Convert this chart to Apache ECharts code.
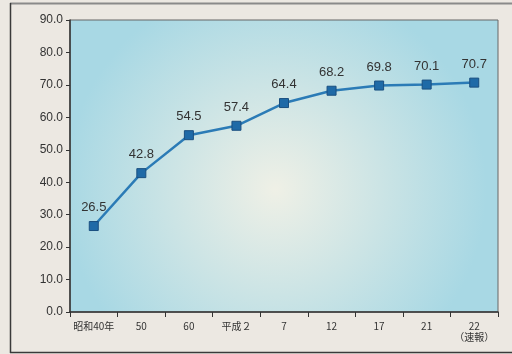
<!DOCTYPE html>
<html><head><meta charset="utf-8">
<script src="https://cdn.jsdelivr.net/npm/echarts@6/dist/echarts.min.js"></script>
<style>html,body{margin:0;padding:0;background:#ece8e2;}#c{width:512px;height:354px;}</style>
</head><body><div id="c"></div>
<script>
const categories = ['昭和40年', '50', '60', '平成２', '7', '12', '17', '21', '22\n（速報）'];
const values = [26.5, 42.8, 54.5, 57.4, 64.4, 68.2, 69.8, 70.1, 70.7];
const yTicks = { min: 0, max: 90, interval: 10 };

const chart = echarts.init(document.getElementById('c'));
chart.setOption({
  backgroundColor: '#ece8e2',
  animation: false,
  graphic: [
    { type: 'line', shape: { x1: 10, y1: 3.5, x2: 512, y2: 3.5 }, style: { stroke: '#8a8a8a', lineWidth: 2 } },
    { type: 'line', shape: { x1: 10.5, y1: 3, x2: 10.5, y2: 353 }, style: { stroke: '#3a3a3a', lineWidth: 1.5 } },
    { type: 'line', shape: { x1: 10, y1: 352.5, x2: 512, y2: 352.5 }, style: { stroke: '#3a3a3a', lineWidth: 1.5 } }
  ],
  grid: {
    left: 70, top: 20, right: 14, bottom: 42,
    show: true,
    borderColor: '#666',
    borderWidth: 1,
    backgroundColor: {
      type: 'radial', x: 0.48, y: 0.58, r: 0.72,
      colorStops: [
        { offset: 0, color: '#eff0e6' },
        { offset: 1, color: '#a8d8e4' }
      ]
    }
  },
  xAxis: {
    type: 'category',
    data: categories,
    boundaryGap: true,
    axisLine: { lineStyle: { color: '#333', width: 1.5 } },
    axisTick: { show: true, length: 5, lineStyle: { color: '#333' } },
    axisLabel: {
      interval: 0,
      color: '#333', fontSize: 10, margin: 9, lineHeight: 11,
      fontFamily: 'Noto Sans CJK JP, sans-serif'
    },
    splitLine: { show: false }
  },
  yAxis: {
    type: 'value',
    min: yTicks.min, max: yTicks.max, interval: yTicks.interval,
    axisLine: { show: true, lineStyle: { color: '#333', width: 1.5 } },
    axisTick: { show: true, length: 4, lineStyle: { color: '#333' } },
    axisLabel: {
      color: '#333', fontSize: 12, margin: 7,
      fontFamily: 'Liberation Sans, Arial, sans-serif',
      formatter: v => v.toFixed(1)
    },
    splitLine: { show: false }
  },
  series: [{
    type: 'line',
    data: values,
    symbol: 'rect',
    symbolSize: 9,
    lineStyle: { color: '#2b7bb6', width: 2.5 },
    itemStyle: { color: '#1f6aa7', borderColor: '#1a4f80', borderWidth: 1 },
    label: {
      show: true, position: 'top', distance: 7,
      color: '#333', fontSize: 13,
      fontFamily: 'Liberation Sans, Arial, sans-serif',
      formatter: p => p.value.toFixed(1)
    }
  }]
});
</script></body></html>
